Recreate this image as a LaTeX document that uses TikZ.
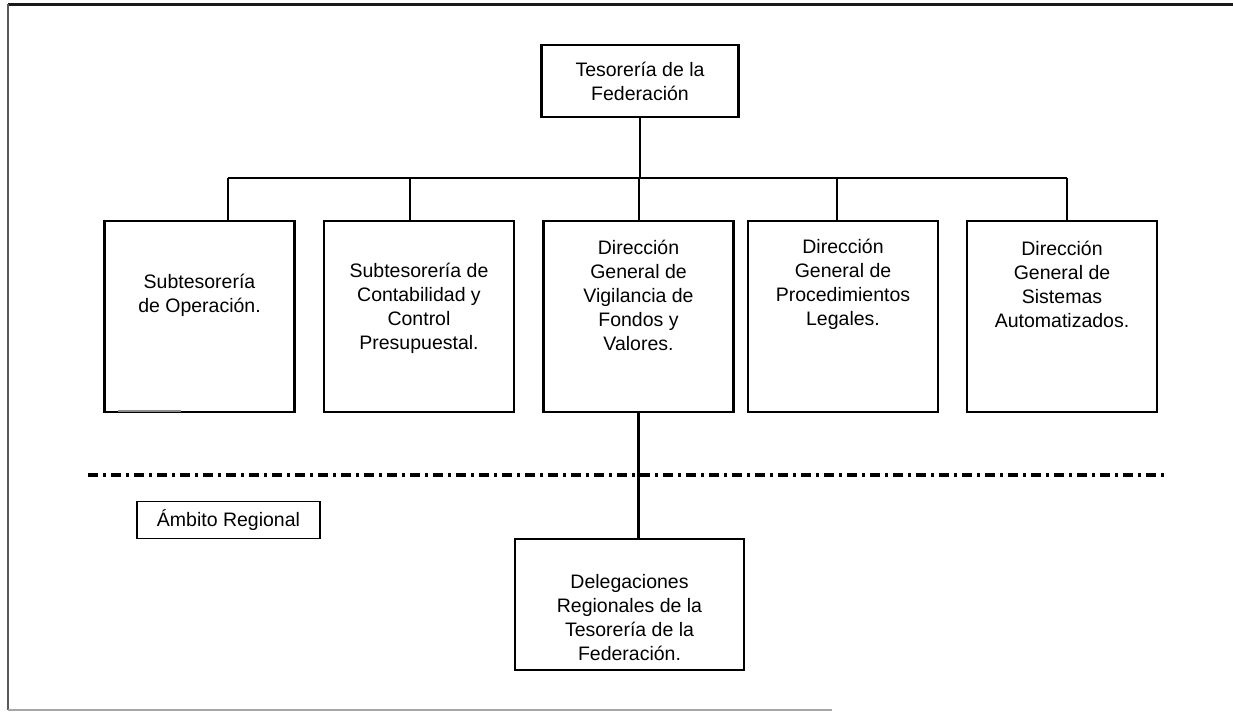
\documentclass[tikz,border=0pt]{standalone}
\usepackage{fontspec}
\setmainfont{Liberation Sans}
\usetikzlibrary{positioning}
\tikzset{
    every node/.style={font=\fontsize{9.75}{12}\selectfont, align=center},
    box/.style={draw, line width=1.1pt, inner sep=0pt},
    unit/.style={box, minimum width=95pt, minimum height=95.5pt},
    head/.style={box, minimum width=98.5pt, minimum height=36pt},
    area/.style={box, line width=0.9pt, minimum width=91.5pt, minimum height=18.5pt},
    deleg/.style={box, minimum width=114.5pt, minimum height=65.5pt},
    txt/.style={inner sep=0pt},
    link/.style={line width=1.2pt},
    zone/.style={line width=1.6pt, dash pattern=on 5pt off 2.5pt on 1.5pt off 2.5pt},
}

\begin{document}
\begin{tikzpicture}[x=0.5pt, y=-0.5pt]
        \useasboundingbox (0,0) rectangle (1233,712);

        % outer frame
        \coordinate (f1) at (8,4);
        \coordinate (f2) at (1233,4);
        \coordinate (f3) at (8,710);
        \coordinate (f4) at (832,710);
        \draw[line width=1.5pt, black!90] (f1) -- (f2);
        \draw[line width=1pt, black!65] (f1) -- (f3);
        \draw[line width=0.8pt, black!35] (f3) -- (f4);

        \node[head] (tes) at (640,81) {Tesorería de la\\Federación};

        \node[unit] (b1) at (199.5,316.5) {};
        \node[unit] (b2) at (419,316.5) {};
        \node[unit] (b3) at (638.5,316.5) {};
        \node[unit] (b4) at (843,316.5) {};
        \node[unit] (b5) at (1062,316.5) {};

        \node[txt] (t1) at (199.5,295) {Subtesorería\\de Operación.};
        \node[txt] (t2) at (419,308) {Subtesorería de\\Contabilidad y\\Control\\Presupuestal.};
        \node[txt] (t3) at (638.5,295) {Dirección\\General de\\Vigilancia de\\Fondos y\\Valores.};
        \node[txt] (t4) at (843,284) {Dirección\\General de\\Procedimientos\\Legales.};
        \node[txt] (t5) at (1062,284) {Dirección\\General de\\Sistemas\\Automatizados.};

        \node[area] (amb) at (228.5,520) {Ámbito Regional};
        \node[deleg] (reg) at (629.5,604.5) {};
        \node[txt] (treg) at (629.5,618) {Delegaciones\\Regionales de la\\Tesorería de la\\Federación.};

        % bus
        \coordinate (k1) at (228,178);
        \coordinate (k2) at (410,178);
        \coordinate (k3) at (639,178);
        \coordinate (k4) at (837,178);
        \coordinate (k5) at (1067,178);
        \draw[link] (k1) -- (k5);
        \draw[link] (tes.south) -- (tes.south |- k1);
        \foreach \i in {1,...,5}
            \draw[link] (k\i) -- (k\i |- b\i.north);
        \draw[link] (b3.south) -- (b3.south |- reg.north);

        % regional limit
        \coordinate (zl) at (88,475);
        \coordinate (zr) at (1167,475);
        \draw[zone] (zl) -- (zr);

        \coordinate (g1) at (118,411);
        \coordinate (g2) at (181,411);
        \draw[line width=1.4pt, black!45] (g1) -- (g2);
    \end{tikzpicture}
\end{document}
